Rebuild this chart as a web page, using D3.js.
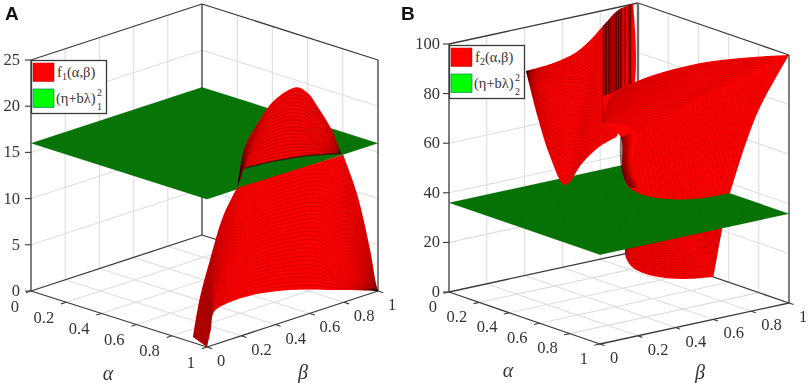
<!DOCTYPE html>
<html><head><meta charset="utf-8">
<script src="https://cdn.jsdelivr.net/npm/d3@7"></script>
<style>html,body{margin:0;background:#fff}svg{display:block;filter:blur(.35px)}text{font-family:"Liberation Serif",serif;fill:#333}</style>
</head><body><svg id="c" width="809" height="383"></svg>
<script>
// Shared tick values
const alphaTicks=[0,.2,.4,.6,.8,1], betaTicks=[0,.2,.4,.6,.8,1];
const zTicksA=[0,5,10,15,20,25], zTicksB=[0,20,40,60,80,100];
const planeLevelA=16, planeLevelB=36;
// Surface samples, each point = [alpha, beta, z]
// Panel A, f1: dome above the plane
const domeOuterA=[[.939,.243,15.6],[.942,.281,19.6],[.948,.351,21.8],[.955,.443,23.8],[.965,.562,24.5],[.97,.622,23.5],[.974,.676,21.7],[.98,.751,18.8],[.984,.8,16]];
const domeRimA=[[.939,.243,15.6],[.941,.259,16.4],[.942,.281,17.3],[.948,.346,17.3],[.955,.443,17.2],[.966,.578,16.9],[.971,.643,16.7],[.977,.714,16.4],[.984,.8,16]];
// Panel A, f1: body below the plane
const bodyOuterA=[[.92,0,.6],[.923,.038,4.7],[.927,.092,8.4],[.933,.162,12.7],[.942,.281,17.6],[.962,.524,19],[.981,.768,18.2],[.991,.886,11.2],[.997,.957,4.7],[.999,.989,.9],[1,1,0]];
const bodyFloorA=[[1,0,0],[.861,.165,0],[.712,.337,0],[.673,.459,0],[.674,.603,0],[.722,.731,0],[.791,.818,0],[.861,.879,0],[.911,.929,0],[.958,.967,0],[1,1,0]];
const bodyCutA=[[.939,.238,15.4],[.985,.811,15.8]];
// Panel B, f2: left sheet
const leftTopB=[[.51,0,99.8],[.386,.243,96.4],[.279,.452,95.2],[.209,.591,97],[.146,.713,99.8],[.032,.87,100],[0,.974,100]];
const leftLowB=[[.51,0,99.8],[.457,.104,78.4],[.399,.217,59.2],[.333,.348,44.4],[.253,.504,49],[.177,.652,51.4],[.097,.809,51.2]];
const leftCornerB=[0,.984,68.4];
// Panel B, f2: dark fold columns of the left sheet
const foldBetaB=[.69,.705,.72,.735,.75,.765,.78,.795,.81,.825,.84,.855,.885,.92,.935];
const foldZB=[60,104], foldAlphaOf=[.51,0];
// Panel B, f2: right sheet
const rightOuterB=[[.668,.322,88.9],[.742,.473,94.8],[.835,.663,98.9],[.927,.852,100],[1,1,100],[.946,.89,79.7],[.922,.84,66.7],[.89,.776,38]];
const rightInnerB=[[.65,.285,77.5],[.67,.327,76],[.694,.376,75.3],[.707,.403,73.5],[.712,.413,71.4],[.708,.405,65.4],[.701,.39,57.5],[.698,.383,48.6]];
const rightStartB=[.653,.292,87.5];
const rightEdgeB=[[1,1,100],[.946,.89,79.7],[.922,.84,66.7],[.896,.787,49.7],[.89,.776,45.8]];
const rightRimB=[[.89,.776,45.8],[.835,.663,44.4],[.774,.538,44.8],[.729,.447,47],[.701,.39,50.6],[.69,.367,56.4],[.686,.36,70.9],[.655,.295,78.2]];
const shadeLeftB=[[.686,.36,70.9],[.686,.36,61.5],[.694,.375,54],[.705,.394,50.5]];
const shadeRightB=[[.71,.405,72.5],[.705,.398,63],[.71,.405,55],[.72,.43,49.5]];
// Panel B, f2: lower body below the plane
const lowerFloorB=[[0,.931,1.5],[.052,.895,0],[.189,.824,0],[.333,.813,0],[.445,.882,0],[.5,.999,0],[.556,1,20]];
const lowerInnerB=[[.086,.9,14],[.113,.9,11.7],[.172,.9,10.5],[.272,.9,11.8],[.371,.9,14.7],[.437,.9,19.3],[.47,.9,24]];
const lowerEdgeB=[[.5,.999,0],[.556,1,20],[.589,1,30.9]];
const lowerBackB=[0,.92,30];

const LEGEND_A=["f","1","(α,β)","(η+bλ)","2","1"], LEGEND_B=["f","2","(α,β)","(η+bλ)","2","2"];

const svg=d3.select("#c");
const lerp3=(p,q,t)=>p.map((v,i)=>v+(q[i]-v)*t);
let clipN=0;

function panel(o){
  const xa=d3.scaleLinear([0,1],[0,o.ax]), xb=d3.scaleLinear([0,1],[0,o.bx]);
  const ya=d3.scaleLinear([0,1],[0,o.ay]), yb=d3.scaleLinear([0,1],[0,o.by]);
  const yz=d3.scaleLinear([0,o.zMax],[0,-o.zPx]);
  const P=([a,b,z])=>[o.x0+xa(a)+xb(b), o.y0+ya(a)+yb(b)+yz(z)];
  const g=svg.append("g");
  const curve=d3.line().curve(d3.curveCatmullRom.alpha(.5));
  const path=pts=>curve(pts.map(P));
  const sections=secs=>secs.map((s,i)=>{const d=path(s);return i?d.replace(/^M/,"L"):d;}).join("")+"Z";
  const seg=(p,q,c,w)=>g.append("path").attr("d",d3.line()([P(p),P(q)])).attr("stroke",c).attr("stroke-width",w).attr("fill","none");
  // gridlines
  const grid="#dedede", gw=1.1;
  for(const t of alphaTicks.slice(1,-1)){ seg([t,1,0],[t,1,o.zMax],grid,gw); seg([t,0,0],[t,1,0],grid,gw); }
  for(const t of betaTicks.slice(1,-1)){ seg([0,t,0],[0,t,o.zMax],grid,gw); seg([0,t,0],[1,t,0],grid,gw); }
  for(const z of o.zTicks.slice(1,-1)){ seg([0,0,z],[0,1,z],grid,gw); seg([0,1,z],[1,1,z],grid,gw); }
  // axis box
  const ec="#3a3a3a", ew=1.3, Z=o.zMax;
  [[[0,0,0],[0,0,Z]],[[0,1,0],[0,1,Z]],[[1,1,0],[1,1,Z]],[[0,0,Z],[0,1,Z]],[[0,1,Z],[1,1,Z]],[[0,0,0],[1,0,0]],[[1,0,0],[1,1,0]],[[0,0,0],[0,1,0]],[[0,1,0],[1,1,0]]]
    .forEach(([p,q])=>seg(p,q,ec,ew));
  // ticks and labels
  const label=(x,y,s,anchor,size=16.5)=>g.append("text").attr("x",x).attr("y",y).attr("text-anchor",anchor).attr("dominant-baseline","central").attr("font-size",size).text(s);
  for(const t of alphaTicks){ seg([t,0,0],[t,-.03,0],ec,1.1); const [x,y]=P([t,0,0]); label(x-12,y+o.ady,String(t),"end"); }
  for(const t of betaTicks){ seg([1,t,0],[1.03,t,0],ec,1.1); const [x,y]=P([1,t,0]); label(x+10,y+13.5,String(t),"start"); }
  for(const z of o.zTicks){ const [x,y]=P([0,0,z]); g.append("path").attr("d",d3.line()([[x-6,y],[x,y]])).attr("stroke",ec).attr("stroke-width",1.1);
    label(x-o.zlab,y-.5,String(z),"end"); }
  label(o.alphaPos[0],o.alphaPos[1],"α","middle",20).attr("font-style","italic");
  label(o.betaPos[0],o.betaPos[1],"β","middle",20).attr("font-style","italic");
  g.append("text").attr("x",o.tagX).attr("y",20).attr("font-size",19).attr("font-weight",700).style("font-family","'Liberation Sans',sans-serif").style("fill","#111").text(o.tag);

  const plane=lvl=>{
    const c=[[0,0,lvl],[0,1,lvl],[1,1,lvl],[1,0,lvl]];
    g.append("path").attr("d",d3.line()(c.map(P))+"Z").attr("fill","#0a800a");
    for(const t of d3.range(0,1.001,.0125)){ seg([t,0,lvl],[t,1,lvl],"#000",.35).attr("opacity",.2); seg([0,t,lvl],[1,t,lvl],"#000",.35).attr("opacity",.2); }
  };
  const patch=(secs,A,B,nU,nV,op=.3)=>{
    const id="clip"+(++clipN), d=sections(secs);
    g.append("clipPath").attr("id",id).append("path").attr("d",d);
    g.append("path").attr("d",d).attr("fill","#ff0000");
    const m=g.append("g").attr("clip-path",`url(#${id})`);
    if(A) {
      for(const k of d3.range(1,nU)){ const u=k/nU;
        m.append("path").attr("d",path(A.map((p,i)=>lerp3(p,B[i],u)))).attr("fill","none").attr("stroke","#200").attr("stroke-width",.6).attr("opacity",op); }
      const L=A.length-1, at=(R,t)=>{const s=t*L,i=Math.min(L-1,Math.floor(s));return lerp3(R[i],R[i+1],s-i);};
      for(const k of d3.range(1,nV)){ const t=k/nV;
        m.append("path").attr("d",d3.line()([P(at(A,t)),P(at(B,t))])).attr("fill","none").attr("stroke","#200").attr("stroke-width",.4).attr("opacity",op*.5); }
    }
    return {m,id};
  };
  return {g,P,plane,patch,seg,path};
}

function legend(x,y,parts){
  const w=75,h=53,g=svg.append("g").attr("transform",`translate(${x},${y})`);
  g.append("rect").attr("x",.5).attr("y",.5).attr("width",w).attr("height",h).attr("fill","#fff").attr("stroke","#3a3a3a").attr("stroke-width",1.3);
  g.append("rect").attr("x",2).attr("y",3).attr("width",21).attr("height",18.5).attr("fill","#ff0000").attr("stroke","#b00").attr("stroke-width",.5);
  g.append("rect").attr("x",2).attr("y",29).attr("width",21).attr("height",18.5).attr("fill","#00ff00").attr("stroke","#085").attr("stroke-width",.7);
  const T=(tx,ty,s,size=14.5)=>g.append("text").attr("x",tx).attr("y",ty).attr("font-size",size).text(s);
  T(26,17,parts[0]); T(31,20,parts[1],10); T(36,17,parts[2]);
  T(25,43,parts[3]); T(66,36,parts[4],10); T(66,50,parts[5],10);
}

// Panel A
const A=panel({x0:31,y0:291,ax:176,ay:56,bx:171,by:-56,zMax:25,zPx:231,zTicks:zTicksA,ady:15,zlab:11,alphaPos:[108,373],betaPos:[303,372],tag:"A",tagX:5});
A.plane(planeLevelA);
A.patch([domeOuterA,[...domeRimA].reverse()],domeOuterA,domeRimA,20,50,.42);
A.g.append("path").attr("d",A.path(domeRimA.slice(2))).attr("fill","none").attr("stroke","#3a0000").attr("stroke-width",1.7).attr("opacity",.65);
A.patch([[...bodyOuterA.slice(0,4),bodyCutA[0]],bodyCutA,[bodyCutA[1],...bodyOuterA.slice(7)],[...bodyFloorA].reverse(),[bodyFloorA[0],bodyOuterA[0]]],bodyOuterA,bodyFloorA,38,60,.3);

// Panel B
const B=panel({x0:449,y0:292,ax:151,ay:52,bx:189,by:-41,zMax:100,zPx:248,zTicks:zTicksB,ady:14,zlab:9,alphaPos:[508,370],betaPos:[700,372],tag:"B",tagX:401});
B.patch([[lowerBackB,lowerFloorB[0]],lowerFloorB.slice(0,6),lowerEdgeB,[lowerEdgeB[2],lowerBackB]],lowerFloorB,lowerInnerB,22,30,.32);
B.plane(planeLevelB);
const left=B.patch([leftTopB,[leftTopB[6],leftCornerB,leftLowB[6]],[...leftLowB].reverse()],leftTopB,leftLowB,34,56,.3);
const alphaOnLeft=d3.scaleLinear([0,1],foldAlphaOf);
for(const b of foldBetaB){
  const a=alphaOnLeft(b);
  left.m.append("path").attr("d",d3.line()([B.P([a,b,foldZB[0]]),B.P([a,b,foldZB[1]])])).attr("stroke","#000").attr("stroke-width",1).attr("opacity",.72);
}
B.seg([0,1,68],[0,1,100],"#6b6b6b",2.4);
B.patch([[rightStartB,...rightOuterB.slice(0,5)],rightEdgeB,rightRimB,[rightRimB[7],rightStartB]],rightOuterB,rightInnerB,32,60,.27);
for(const k of d3.range(0,13)){
  const u=k/12;
  B.g.append("path").attr("d",B.path(shadeLeftB.map((p,i)=>lerp3(p,shadeRightB[i],u)))).attr("fill","none").attr("stroke","#000").attr("stroke-width",.8).attr("opacity",.62*(1-u)+.08);
}

legend(31,60,LEGEND_A);
legend(449,45,LEGEND_B);
</script></body></html>
